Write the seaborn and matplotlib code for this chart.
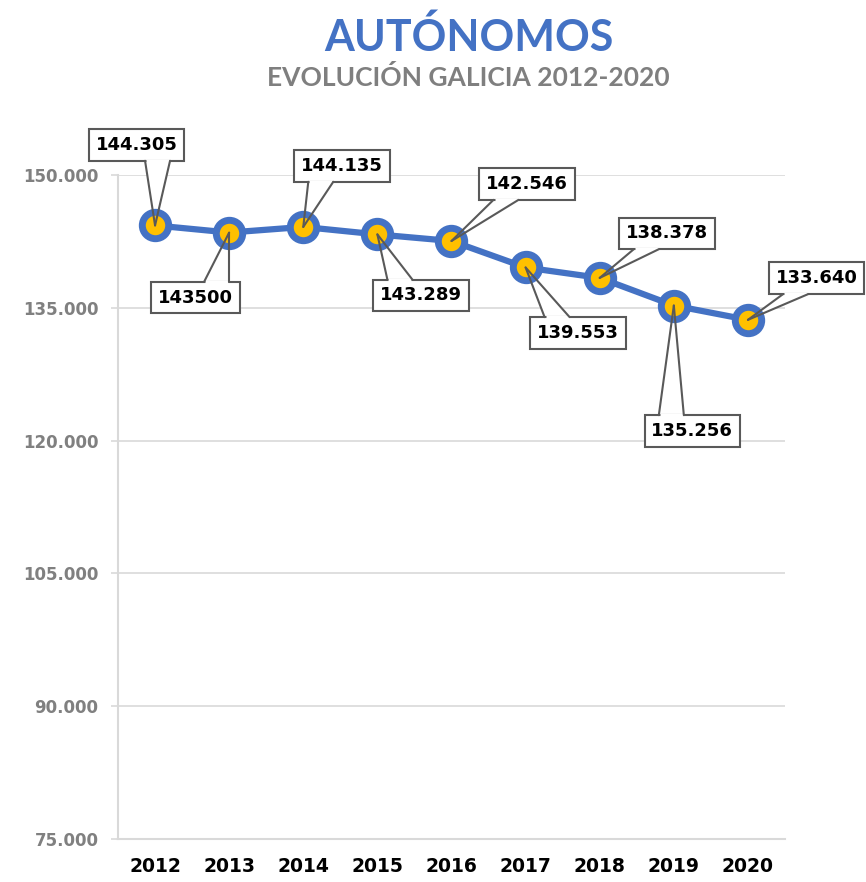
import matplotlib
matplotlib.use("Agg")
import matplotlib.pyplot as plt
from matplotlib.ticker import FuncFormatter, FixedLocator
from matplotlib.patches import Polygon
from matplotlib.lines import Line2D
from matplotlib.transforms import IdentityTransform
import seaborn as sns
import pandas as pd
import numpy as np

years = ["2012", "2013", "2014", "2015", "2016", "2017", "2018", "2019", "2020"]
autonomos = [144305, 143500, 144135, 143289, 142546, 139553, 138378, 135256, 133640]
point_labels = ["144.305", "143500", "144.135", "143.289", "142.546",
                "139.553", "138.378", "135.256", "133.640"]
y_ticks = [75000, 90000, 105000, 120000, 135000, 150000]

title = "AUTÓNOMOS"
subtitle = "EVOLUCIÓN GALICIA 2012-2020"

BLUE = "#4472C4"
GOLD = "#FFC000"
GRID = "#D9D9D9"
BOXEDGE = "#595959"
FONT = ["DejaVu Sans"]
TITLE_FONT = ["Lato", "DejaVu Sans"]

sns.set_theme(style="white")
plt.rcParams["font.family"] = FONT

df = pd.DataFrame({"pos": list(range(len(years))), "year": years, "value": autonomos})

fig = plt.figure(figsize=(8.66, 8.82), dpi=100)
ax = fig.add_axes([118 / 866, 1 - 839 / 882, (785 - 118) / 866, (839 - 175) / 882])

sns.lineplot(data=df, x="pos", y="value", ax=ax, color=BLUE, linewidth=4.5,
             marker="o", markersize=19, markerfacecolor=GOLD,
             markeredgecolor=BLUE, markeredgewidth=5, zorder=3, clip_on=False)

ax.set_xlim(-0.5, len(years) - 0.5)
ax.set_ylim(y_ticks[0], y_ticks[-1])
ax.set_yticks(y_ticks)
ax.yaxis.set_major_formatter(FuncFormatter(lambda v, p: f"{int(v):,}".replace(",", ".")))
ax.set_xticks(range(len(years)))
ax.set_xticklabels(years)
ax.xaxis.set_minor_locator(FixedLocator([i - 0.5 for i in range(len(years) + 1)]))
ax.set_xlabel("")
ax.set_ylabel("")

ax.grid(axis="y", color=GRID, linewidth=1.2)
ax.grid(axis="x", visible=False)
for s in ["top", "right"]:
    ax.spines[s].set_visible(False)
for s in ["left", "bottom"]:
    ax.spines[s].set_color(GRID)
    ax.spines[s].set_linewidth(1.5)

ax.tick_params(axis="x", which="major", length=0, pad=13, labelsize=13.5,
               labelcolor="black")
ax.tick_params(axis="x", which="minor", length=6, width=1.5, color=GRID, direction="out")
ax.tick_params(axis="y", which="major", length=5, width=1.2, color=GRID, pad=9,
               labelsize=12, labelcolor="#808080", left=True)
for lab in ax.get_xticklabels() + ax.get_yticklabels():
    lab.set_fontweight("bold")

# label box offsets in pixels (box centre relative to the point, y up)
offsets = [(-18.5, 80.5), (-33.5, -65), (38.5, 61), (43.5, -61), (75.5, 57),
           (52.5, -65.5), (67.5, 44.5), (18.5, -125.5), (68.5, 41.5)]
texts = []
for i, (v, lab) in enumerate(zip(autonomos, point_labels)):
    dx, dy = offsets[i]
    t = ax.annotate(lab, xy=(i, v), xytext=(dx, dy), textcoords="offset pixels",
                    ha="center", va="center", fontsize=13, fontweight="bold",
                    color="black", zorder=6, annotation_clip=False,
                    bbox=dict(boxstyle="square,pad=0.38", fc="white", ec=BOXEDGE, lw=1.5))
    texts.append(t)

fig.text(0.541, 0.958, title, ha="center", va="center", fontsize=31,
         fontweight="bold", color=BLUE, family=TITLE_FONT)
fig.text(0.541, 0.912, subtitle, ha="center", va="center", fontsize=19,
         fontweight="bold", color="#7F7F7F", family=TITLE_FONT)

# callout pointers, computed in display pixels from each box and its point
fig.canvas.draw()
renderer = fig.canvas.get_renderer()
half = 12.5
shift = 21.0
ident = IdentityTransform()
for i, (v, t) in enumerate(zip(autonomos, texts)):
    bb = t.get_bbox_patch().get_window_extent(renderer)
    px, py = ax.transData.transform((i, v))
    cx = (bb.x0 + bb.x1) / 2
    ey = bb.y1 if py > bb.y1 else bb.y0
    inward = -1.0 if py > bb.y1 else 1.0
    bx = cx + np.sign(px - cx) * shift
    b1, b2 = (bx - half, ey), (bx + half, ey)
    fill = Polygon([(b1[0], ey + inward * 1.5), (px, py), (b2[0], ey + inward * 1.5)],
                   closed=True, fc="white", ec="none", transform=ident,
                   zorder=2.5, clip_on=False)
    ax.add_artist(fill)
    cover = Line2D([b1[0] + 1, b2[0] - 1], [ey, ey], color="white", lw=2.2,
                   transform=ident, zorder=7, clip_on=False, solid_capstyle="butt")
    ax.add_artist(cover)
    for b in (b1, b2):
        ax.add_artist(Line2D([b[0], px], [b[1], py], color=BOXEDGE, lw=1.5,
                             transform=ident, zorder=8, clip_on=False))

fig.savefig("out.png", dpi=100, facecolor="white")
